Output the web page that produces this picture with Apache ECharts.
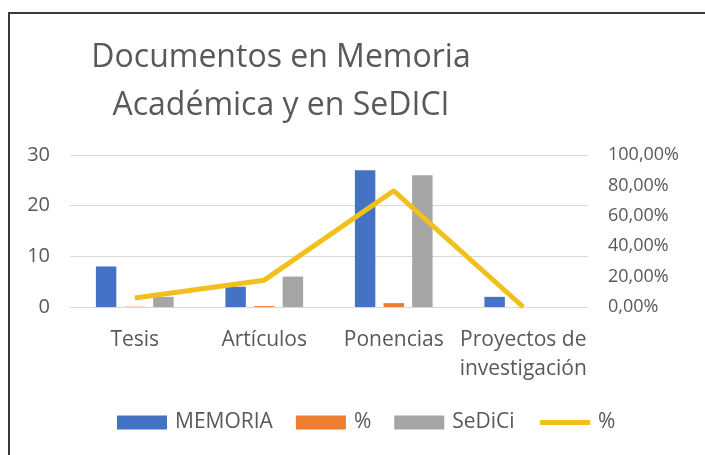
<!DOCTYPE html>
<html>
<head>
<meta charset="utf-8">
<script src="https://cdn.jsdelivr.net/npm/echarts@6/dist/echarts.min.js"></script>
<style>
  html, body { margin: 0; padding: 0; background: #fff; }
  #chart { width: 705px; height: 455px; }
</style>
</head>
<body>
<div id="chart"></div>
<script>
// categorias y datos
var categorias = ['Tesis', 'Artículos', 'Ponencias', 'Proyectos de\ninvestigación'];
var memoria = [8, 4, 27, 2];
var sedici = [2, 6, 26, 0];
// porcentaje (se dibuja como barra en eje izq. y como linea en eje der.)
var porcentaje = [0.0588, 0.1765, 0.7647, 0];

var fuente = 'Open Sans';
var gris = '#595959';

var myChart = echarts.init(document.getElementById('chart'));

var option = {
    animation: false,
    backgroundColor: '#fff',
    title: {
        text: 'Documentos en Memoria\nAcadémica y en SeDICI',
        left: 276,
        top: 29,
        textAlign: 'center',
        textStyle: {
            fontFamily: fuente,
            fontSize: 32,
            fontWeight: 'normal',
            color: gris,
            lineHeight: 48
        }
    },
    graphic: [{
        type: 'rect',
        shape: { x: 9, y: 13, width: 720, height: 460 },
        style: { fill: 'none', stroke: '#3a3a3a', lineWidth: 2 }
    }],
    legend: {
        bottom: 17,
        left: 112,
        itemWidth: 50,
        itemHeight: 14,
        itemGap: 23,
        textStyle: {
            fontFamily: fuente,
            fontSize: 21,
            color: gris,
            padding: [0, 0, 0, 3]
        },
        data: [
            { name: 'MEMORIA', icon: 'rect' },
            { name: '% ', icon: 'rect' },
            { name: 'SeDiCi', icon: 'rect' },
            { name: '%', itemStyle: { opacity: 0 }, lineStyle: { width: 5 } }
        ],
        formatter: function (n) { return n.trim(); }
    },
    grid: {
        left: 70,
        right: 117,
        top: 155,
        bottom: 148
    },
    xAxis: [{
        type: 'category',
        data: categorias,
        axisTick: { show: false },
        axisLine: { lineStyle: { color: '#d9d9d9', width: 1 } },
        axisLabel: {
            fontFamily: fuente,
            fontSize: 21,
            color: gris,
            margin: 19,
            lineHeight: 29,
            interval: 0
        }
    }],
    yAxis: [{
        type: 'value',
        min: 0,
        max: 30,
        interval: 10,
        axisLine: { show: false },
        axisTick: { show: false },
        splitLine: { lineStyle: { color: '#d9d9d9' } },
        axisLabel: {
            fontFamily: fuente,
            fontSize: 20,
            color: gris,
            margin: 20
        }
    }, {
        type: 'value',
        min: 0,
        max: 1,
        interval: 0.2,
        axisLine: { show: false },
        axisTick: { show: false },
        splitLine: { show: false },
        axisLabel: {
            fontFamily: fuente,
            fontSize: 18,
            color: gris,
            margin: 20,
            formatter: function (v) {
                return (v * 100).toFixed(2).replace('.', ',') + '%';
            }
        }
    }],
    series: [{
        name: 'MEMORIA',
        type: 'bar',
        data: memoria,
        barGap: '40%',
        barCategoryGap: '40%',
        itemStyle: { color: '#4472c4' }
    }, {
        name: '% ',
        type: 'bar',
        data: porcentaje,
        itemStyle: { color: '#ed7d31' }
    }, {
        name: 'SeDiCi',
        type: 'bar',
        data: sedici,
        itemStyle: { color: '#a5a5a5' }
    }, {
        name: '%',
        type: 'line',
        yAxisIndex: 1,
        data: porcentaje,
        symbol: 'none',
        lineStyle: { color: '#f2c01c', width: 5 },
        itemStyle: { color: '#f2c01c' }
    }]
};

myChart.setOption(option);
</script>
</body>
</html>
